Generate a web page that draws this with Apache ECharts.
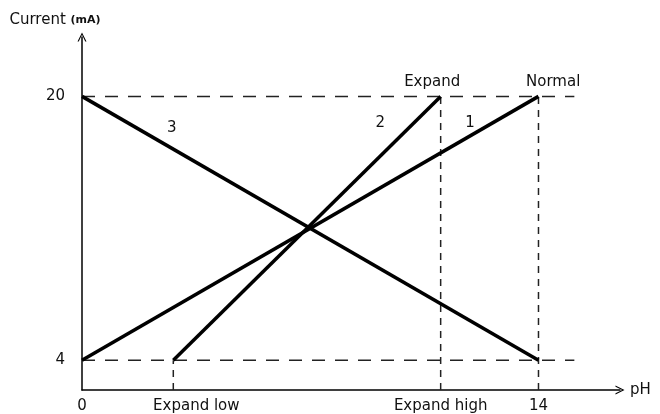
<!DOCTYPE html>
<html>
<head>
<meta charset="utf-8">
<script src="https://cdn.jsdelivr.net/npm/echarts@6/dist/echarts.min.js"></script>
<style>
  html, body { margin: 0; padding: 0; background: #fff; }
  #chart { width: 660px; height: 414px; }
</style>
</head>
<body>
<div id="chart"></div>
<script>
  // pH values and current (mA) of the three transfer lines
  const normalX = [0, 14];
  const normalY = [4, 20];
  const expandX = [2.8, 11];
  const expandY = [4, 20];
  const reverseX = [0, 14];
  const reverseY = [20, 4];

  // axis ticks and their labels
  const pHTicks = [0, 2.8, 11, 14];
  const pHLabels = ['0', 'Expand low', 'Expand high', '14'];
  const mATicks = [4, 20];
  const mALabels = ['4', '20'];

  // line numbers and end names, with where they sit (pH, mA)
  const lineTags = ['1', '2', '3'];
  const endNames = ['Normal', 'Expand', ''];
  const tagX = [11.9, 9.15, 2.75];
  const tagY = [18.4, 18.4, 18.1];
  const nameX = [14.45, 10.74];
  const nameY = [20.85, 20.85];

  // where the dashed guides stop
  const guideEnd = 15.1;
  const axisBottom = 2.2;

  const FONT = 'DejaVu Sans';
  const INK = '#111';
  const SIZE = 15;

  const pairs = (xs, ys) => xs.map((x, i) => [x, ys[i]]);

  function solid (name, xs, ys, idx) {
    const marks = [{ name: lineTags[idx], coord: [tagX[idx], tagY[idx]] }]
    if (endNames[idx]) marks.push({ name: endNames[idx], coord: [nameX[idx], nameY[idx]] })
    return {
      name: name,
      type: 'line',
      data: pairs(xs, ys),
      symbol: 'none',
      z: 3,
      lineStyle: { color: '#000', width: 3.5 },
      markPoint: {
        symbol: 'rect',
        symbolSize: 1,
        itemStyle: { color: 'transparent' },
        label: { show: true, position: 'inside', formatter: '{b}', color: INK, fontFamily: FONT, fontSize: SIZE },
        data: marks
      }
    }
  }

  function guide (xs, ys, dash) {
    return {
      type: 'line',
      data: pairs(xs, ys),
      symbol: 'none',
      silent: true,
      z: 2,
      lineStyle: { color: '#222', width: 1.5, type: dash }
    }
  }

  const arrow = 'path://M5,0 L10,10 L8.6,10 L5,2.6 L1.4,10 L0,10 Z'

  const chart = echarts.init(document.getElementById('chart'))
  chart.setOption({
    animation: false,
    backgroundColor: '#fff',
    grid: { left: 82, right: 40, top: 37, bottom: 20 },
    xAxis: {
      type: 'value',
      min: 0,
      max: 16.5,
      name: 'pH',
      nameLocation: 'end',
      nameGap: 10,
      nameTextStyle: { color: INK, fontFamily: FONT, fontSize: SIZE, verticalAlign: 'middle' },
      axisLine: { lineStyle: { color: '#000', width: 1.5 }, symbol: ['none', arrow], symbolSize: [9, 9] },
      axisTick: { show: false },
      splitLine: { show: false },
      axisLabel: {
        customValues: pHTicks,
        margin: 9,
        color: INK,
        fontFamily: FONT,
        fontSize: SIZE,
        formatter: v => {
          const s = pHLabels[pHTicks.indexOf(v)]
          return v === pHTicks[1] ? '{low|' + s + '}' : s
        },
        rich: { low: { padding: [0, 0, 0, 46], fontFamily: FONT, fontSize: SIZE, color: INK } }
      }
    },
    yAxis: {
      type: 'value',
      min: axisBottom,
      max: 23.6,
      name: '{big|Current }{small|(mA)}',
      nameLocation: 'end',
      nameGap: 9,
      nameTextStyle: {
        padding: [0, 54, 0, 0],
        rich: {
          big: { fontFamily: FONT, fontSize: SIZE, color: INK },
          small: { fontFamily: FONT, fontSize: 11, fontWeight: 'bold', color: INK }
        }
      },
      axisLine: { lineStyle: { color: '#000', width: 1.5 }, symbol: ['none', arrow], symbolSize: [9, 9] },
      axisTick: { show: false },
      splitLine: { show: false },
      axisLabel: {
        customValues: mATicks,
        margin: 17,
        color: INK,
        fontFamily: FONT,
        fontSize: SIZE,
        formatter: v => mALabels[mATicks.indexOf(v)]
      }
    },
    series: [
      guide([0, guideEnd], [20, 20], [13, 10]),
      guide([0, guideEnd], [4, 4], [13, 10]),
      guide([expandX[1], expandX[1]], [axisBottom, 20], [7, 6]),
      guide([normalX[1], normalX[1]], [axisBottom, 20], [7, 6]),
      guide([expandX[0], expandX[0]], [axisBottom, 4], [7, 6]),
      solid('Normal', normalX, normalY, 0),
      solid('Expand', expandX, expandY, 1),
      solid('Reverse', reverseX, reverseY, 2)
    ]
  })
</script>
</body>
</html>
